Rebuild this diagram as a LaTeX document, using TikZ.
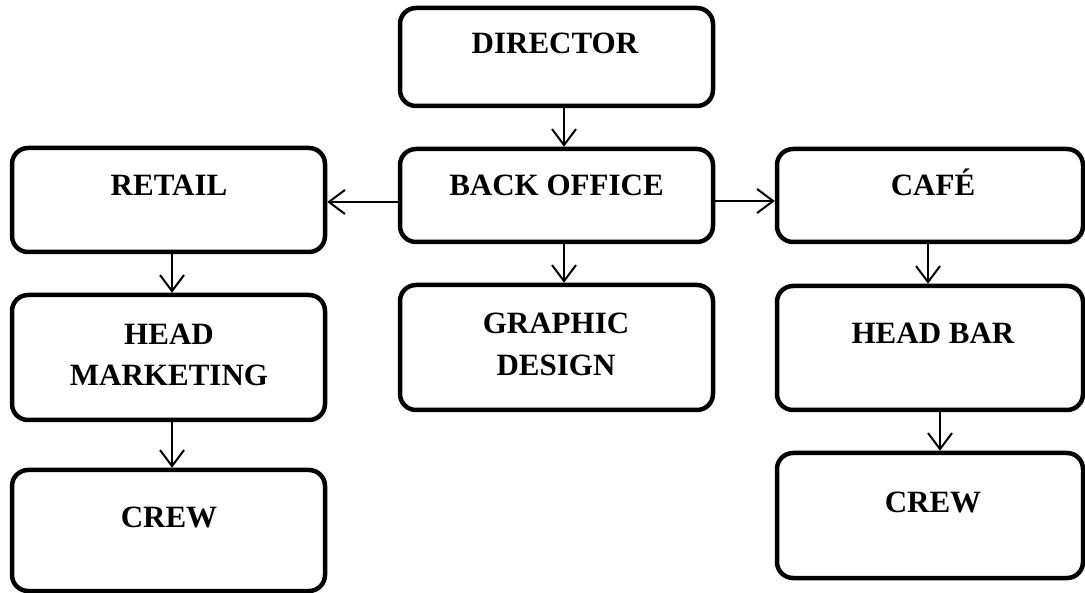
\documentclass[tikz,border=0pt]{standalone}
\usepackage{fontspec}
\setmainfont{Liberation Serif}
\usetikzlibrary{arrows.meta}
\begin{document}
\begin{tikzpicture}[x=1pt,y=-1pt,
  box/.style={draw=black,line width=4.5pt,rounded corners=16pt,rectangle,inner sep=0pt},
  lbl/.style={font=\fontsize{31}{41}\selectfont\bfseries,inner sep=0pt,anchor=base},
  lbl2/.style={font=\fontsize{31}{41}\selectfont\bfseries,inner sep=0pt,anchor=center,align=center},
  arr/.style={line width=2pt,-{Straight Barb[length=16pt,width=24pt,line width=2pt]}}]
\useasboundingbox (0,0) rectangle (1085,593);
% boxes
\node[box,minimum width=313pt,minimum height=98pt] (dir) at (556.5,57) {};
\node[box,minimum width=313pt,minimum height=93pt] (bo) at (556.5,195.5) {};
\node[box,minimum width=313pt,minimum height=104pt] (ret) at (168.5,200) {};
\node[box,minimum width=306pt,minimum height=93pt] (cafe) at (930,195.5) {};
\node[box,minimum width=313pt,minimum height=125pt] (hm) at (168.5,357.5) {};
\node[box,minimum width=313pt,minimum height=125pt] (gd) at (556.5,347.5) {};
\node[box,minimum width=306pt,minimum height=124pt] (hb) at (930,348) {};
\node[box,minimum width=313pt,minimum height=121pt] (crewl) at (168.5,530.5) {};
\node[box,minimum width=306pt,minimum height=125pt] (crewr) at (930,515.5) {};
% labels
\node[lbl] (dirT) at (555,54) {DIRECTOR};
\node[lbl] (boT) at (556.5,196) {BACK OFFICE};
\node[lbl] (retT) at (169,196) {RETAIL};
\node[lbl] (cafeT) at (933,196) {CAFÉ};
\node[lbl2] (hmT) at (169,355) {HEAD\\MARKETING};
\node[lbl2,font=\fontsize{31}{42}\selectfont\bfseries] (gdT) at (556,344.5) {GRAPHIC\\DESIGN};
\node[lbl] (hbT) at (933,344) {HEAD BAR};
\node[lbl] (crewlT) at (169,528) {CREW};
\node[lbl] (crewrT) at (933,513) {CREW};
% connectors
\draw[arr] (dir.south -| 564,0) -- (bo.north -| 564,0);
\draw[arr] (bo.west |- 0,202) -- (ret.east |- 0,202);
\draw[arr] (bo.east |- 0,201) -- (cafe.west |- 0,201);
\draw[arr] (bo.south -| 564,0) -- (gd.north -| 564,0);
\draw[arr] (ret.south -| 172,0) -- (hm.north -| 172,0);
\draw[arr] (hm.south -| 172,0) -- (crewl.north -| 172,0);
\draw[arr] (cafe.south -| 928,0) -- (hb.north -| 928,0);
\draw[arr] (hb.south -| 940,0) -- (crewr.north -| 940,0);
\end{tikzpicture}
\end{document}
